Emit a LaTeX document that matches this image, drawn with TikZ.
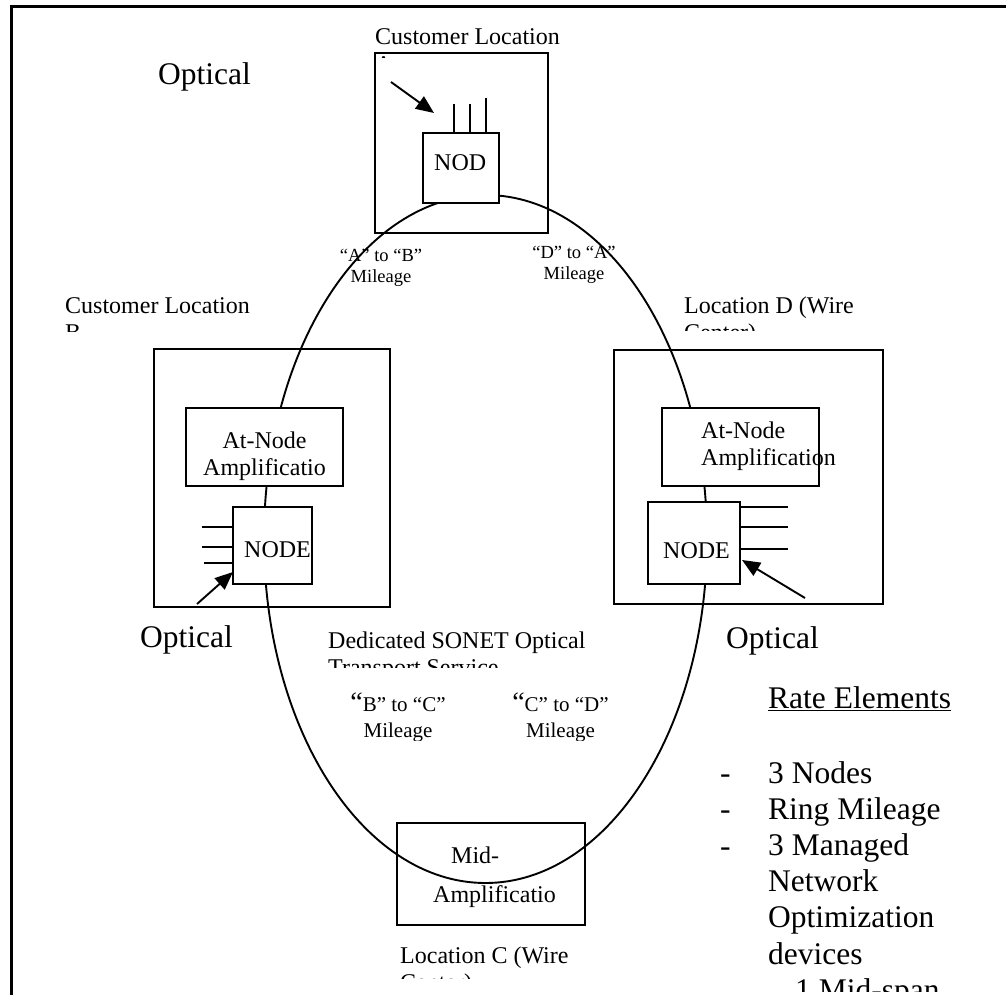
\documentclass[tikz,border=0pt]{standalone}
\usepackage{fontspec}
\setmainfont{Liberation Serif}
\usetikzlibrary{arrows.meta}

\begin{document}
\begin{tikzpicture}[x=1pt, y=-1pt, >={Triangle[length=18pt,width=15pt]},
    box/.style={draw, line width=1.9pt, inner sep=0pt, outer sep=0pt},
    wbox/.style={box, fill=white},
    txt/.style={font=\fontsize{24}{27.5}\selectfont, inner sep=0pt, anchor=base west, align=left},
    big/.style={font=\fontsize{31.5}{36.2}\selectfont, inner sep=0pt, anchor=base west, align=left},
    mil/.style={font=\fontsize{18.5}{21}\selectfont, inner sep=0pt, anchor=base, align=center},
    mil2/.style={font=\fontsize{21}{26}\selectfont, inner sep=0pt, anchor=base, align=center}]
    \useasboundingbox (0,0) rectangle (1006,995);
    \draw[line width=3pt] (11,995) -- (11,7) -- (1006,7);

    % location boxes
    \node[box, minimum width=173, minimum height=180] (boxA) at (461.5,143) {};
    \node[box, minimum width=236, minimum height=258] (boxB) at (272,478) {};
    \node[box, minimum width=269, minimum height=254] (boxD) at (748.5,477) {};
    \node[box, minimum width=188, minimum height=102] (midC) at (491,874) {};

    % the ring
    \draw[line width=1.9pt] (485.5,539) ellipse [x radius=221.5, y radius=344];

    % nodes and amplifiers
    \node[wbox, minimum width=76, minimum height=70] (nodA) at (461,168) {};
    \node[wbox, minimum width=157, minimum height=78] (ampB) at (264.5,447) {};
    \node[wbox, minimum width=79, minimum height=77] (nodeB) at (272.5,545.5) {};
    \node[wbox, minimum width=157, minimum height=78] (ampD) at (740.5,447) {};
    \node[wbox, minimum width=92, minimum height=82] (nodeD) at (694,543) {};

    % tributaries
    \foreach \sx/\sy in {454/104, 470/104, 486/98}
        \draw[line width=1.9pt] (\sx,\sy) -- (\sx,133);
    \foreach \sy/\sx in {527/202, 547/202, 563/204}
        \draw[line width=1.9pt] (\sx,\sy) -- (233,\sy);
    \foreach \sy in {507, 527, 549}
        \draw[line width=1.9pt] (740,\sy) -- (788,\sy);

    % optical arrows
    \coordinate (pA) at (391,82);
    \coordinate (qA) at (434,113);
    \coordinate (pB) at (197,604);
    \coordinate (qB) at (233,572);
    \coordinate (pD) at (805,598);
    \coordinate (qD) at (742,560);
    \draw[->, line width=1.9pt] (pA) -- (qA);
    \draw[->, line width=1.9pt] (pB) -- (qB);
    \draw[->, line width=1.9pt] (pD) -- (qD);

    \node[big] (optA) at (158,85) {Optical};
    \node[big] (optB) at (140,647) {Optical};
    \node[big] (optD) at (726,648) {Optical};

    % box texts
    \node[txt] (tnodA) at (434,171) {NOD};
    \node[txt, align=center, anchor=base] (tampB) at (264.5,475.5) {At-Node\\Amplificatio};
    \node[txt] (tnodeB) at (244,557) {NODE};
    \node[txt, font=\fontsize{24}{27}\selectfont] (tampD) at (701,465) {At-Node\\Amplification};
    \node[txt] (tnodeD) at (663,558) {NODE};
    \node[txt] (tmidC) at (433,902) {\hspace*{18pt}Mid-\\[11.5pt]Amplificatio};

    % location labels, cut off as in the original
    \begin{scope}
        \clip (300,20) rectangle (700,58);
        \node[txt] (locA) at (375,72.5) {Customer Location\\A};
    \end{scope}
    \begin{scope}
        \clip (40,280) rectangle (400,331);
        \node[txt] (locB) at (65,340.5) {Customer Location\\B};
    \end{scope}
    \begin{scope}
        \clip (650,280) rectangle (1000,330);
        \node[txt] (locD) at (684,340.5) {Location D (Wire\\Center)};
    \end{scope}
    \begin{scope}
        \clip (380,930) rectangle (700,978);
        \node[txt] (locC) at (400,990.5) {Location C (Wire\\Center)};
    \end{scope}
    \begin{scope}
        \clip (300,620) rectangle (700,667);
        \node[txt] (sonet) at (328,675.5) {Dedicated SONET Optical\\Transport Service};
    \end{scope}

    % mileage labels
    \node[mil] (milAB) at (381,282) {“A” to “B”\\Mileage};
    \node[mil] (milDA) at (574,279) {“D” to “A”\\Mileage};
    \begin{scope}
        \clip (320,680) rectangle (660,740);
        \node[mil2] (milBC) at (398,737) {{\fontsize{28}{26}\selectfont “}B” to “C”\\Mileage};
        \node[mil2] (milCD) at (560.5,737) {{\fontsize{28}{26}\selectfont “}C” to “D”\\Mileage};
    \end{scope}

    % rate elements
    \node[big] (rate) at (768,708) {\underline{Rate Elements}};
    \node[big] (dashes) at (720,856) {-\\-\\-};
    \begin{scope}
        \clip (740,740) rectangle (1006,991);
        \node[big] (items) at (768,1000.2) {3 Nodes\\Ring Mileage\\3 Managed\\Network\\Optimization\\devices\\\hspace*{27pt}1 Mid-span};
    \end{scope}
\end{tikzpicture}
\end{document}
